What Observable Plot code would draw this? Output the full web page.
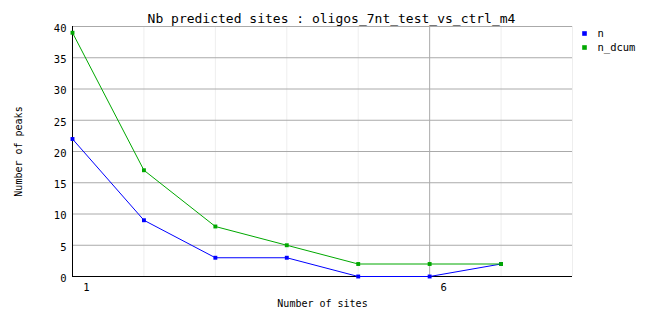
<!DOCTYPE html>
<html>
<head>
<meta charset="utf-8">
<script src="https://cdn.jsdelivr.net/npm/d3@7"></script>
<script src="https://cdn.jsdelivr.net/npm/@observablehq/plot@0.6"></script>
<style>
html,body{margin:0;padding:0;background:#fff;}
svg{display:block;}
</style>
</head>
<body>
<div id="chart"></div>
<script>
const titleText = "Nb predicted sites : oligos_7nt_test_vs_ctrl_m4";
const xLabel = "Number of sites";
const yLabel = "Number of peaks";
const sites = [1, 2, 3, 4, 5, 6, 7];
const nValues = [22, 9, 3, 3, 0, 0, 2];
const nDcumValues = [39, 17, 8, 5, 2, 2, 2];
const seriesNames = ["n", "n_dcum"];
const seriesColors = ["#0000ff", "#00a800"];
const xTickLabels = [1, 6];
const yTicks = [0, 5, 10, 15, 20, 25, 30, 35, 40];
const xLightGrid = [2, 3, 4, 5, 7, 8];
const xDarkGrid = [6];

const rows = [];
sites.forEach((s, i) => {
  rows.push({x: s, y: nValues[i], series: seriesNames[0]});
  rows.push({x: s, y: nDcumValues[i], series: seriesNames[1]});
});

const font = "'DejaVu Sans Mono', monospace";

const legendMarks = seriesNames.flatMap((name, i) => [
  Plot.dot([name], {frameAnchor: "top-right", dx: 12, dy: 7 + i * 14, fill: seriesColors[i], symbol: "square", r: 2.6}),
  Plot.text([name], {frameAnchor: "top-right", textAnchor: "start", lineAnchor: "middle", dx: 25, dy: 7 + i * 14, fontSize: 10.5, fill: "#000"})
]);

const chart = Plot.plot({
  width: 662,
  height: 328,
  marginLeft: 72,
  marginRight: 90,
  marginTop: 26,
  marginBottom: 52,
  style: {fontFamily: font, fontSize: "10px", background: "#fff", color: "#000"},
  x: {type: "linear", domain: [1, 8]},
  y: {domain: [0, 40]},
  color: {domain: seriesNames, range: seriesColors},
  marks: [
    Plot.gridX(xLightGrid, {stroke: "#eeeeee", strokeOpacity: 1}),
    Plot.gridX(xDarkGrid, {stroke: "#aaaaaa", strokeOpacity: 1}),
    Plot.gridY(yTicks.filter(d => d > 0), {stroke: "#aaaaaa", strokeOpacity: 1}),
    Plot.ruleY([0], {stroke: "#000"}),
    Plot.ruleX([1], {stroke: "#000"}),
    Plot.axisY(yTicks, {tickSize: 0, tickPadding: 6, dy: 2, label: null, fontSize: 10.5}),
    Plot.axisX(xTickLabels, {tickSize: 0, tickPadding: 7, dx: 14, label: null, fontSize: 10.5}),
    Plot.line(rows, {x: "x", y: "y", z: "series", stroke: "series", strokeWidth: 1}),
    Plot.dot(rows, {x: "x", y: "y", fill: "series", symbol: "square", r: 2.2}),
    Plot.text([titleText], {frameAnchor: "top", lineAnchor: "middle", dy: -8, dx: 9, fontSize: 13, fill: "#000"}),
    Plot.text([xLabel], {frameAnchor: "bottom", lineAnchor: "middle", dy: 27, fontSize: 10, fill: "#000"}),
    Plot.text([yLabel], {frameAnchor: "left", lineAnchor: "middle", textAnchor: "middle", rotate: -90, dx: -54, fontSize: 10, fill: "#000"}),
    ...legendMarks
  ]
});
document.getElementById("chart").appendChild(chart);
</script>
</body>
</html>
